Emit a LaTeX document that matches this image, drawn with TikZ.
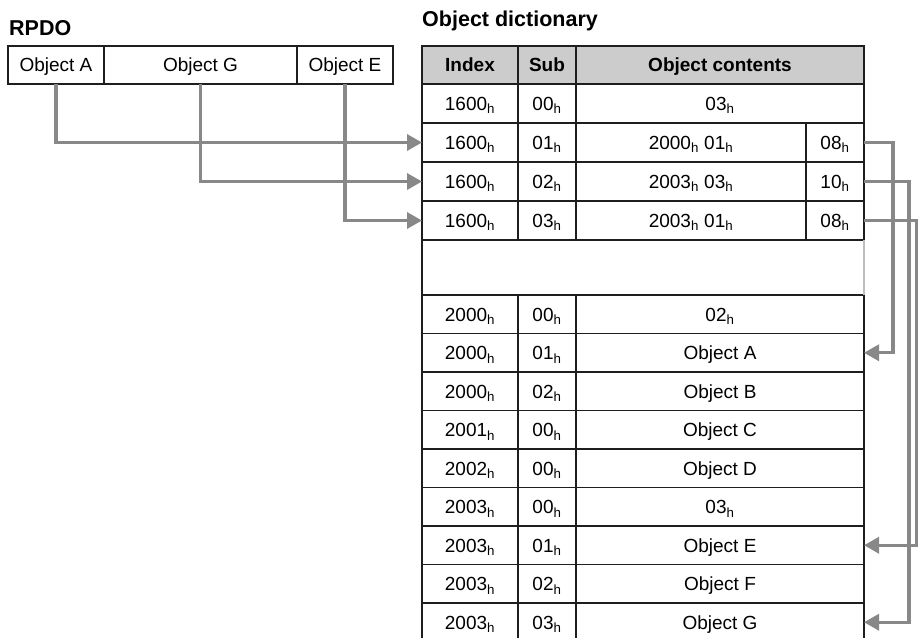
\documentclass[tikz,border=0pt]{standalone}
\usepackage{fontspec}
\setmainfont{Liberation Sans}
\usetikzlibrary{arrows.meta, positioning, calc}

\definecolor{linkgray}{RGB}{136,136,136}
\definecolor{headgray}{RGB}{204,204,204}
\definecolor{gridline}{RGB}{30,30,30}
\definecolor{gapgray}{RGB}{190,190,190}

\newcommand{\hx}[1]{#1\textsubscript{h}}

\begin{document}
\begin{tikzpicture}[x=1pt, y=-1pt,
  cell/.style={draw=gridline, line width=1.3pt, fill=white, anchor=north west,
    inner sep=0pt, outer sep=0pt, minimum height=39pt,
    text height=13.5pt, text depth=0pt, font=\fontsize{19}{22}\selectfont},
  head/.style={cell, fill=headgray, minimum height=38pt,
    font=\fontsize{19}{22}\selectfont\bfseries},
  title/.style={anchor=base west, inner sep=0pt,
    font=\fontsize{21.5}{25}\selectfont\bfseries},
  link/.style={draw=linkgray, line width=3.4pt,
    -{Triangle[length=15pt, width=16pt]}},
]
\useasboundingbox (0,0) rectangle (918,637);
\clip (0,0) rectangle (918,637);

% titles
\node[title] (rpdo) at (9,35) {RPDO};
\node[title] (odtitle) at (422,27) {Object dictionary};

% RPDO mapping
\node[cell, minimum width=96pt, minimum height=38pt] (pdoA) at (8,46) {Object A};
\node[cell, minimum width=193pt, minimum height=38pt, right=0pt of pdoA] (pdoG) {Object G};
\node[cell, minimum width=96pt, minimum height=38pt, right=0pt of pdoG] (pdoE) {Object E};

% header
\node[head, minimum width=96pt] (hd-idx) at (422,46) {Index};
\node[head, minimum width=58pt, right=0pt of hd-idx] (hd-sub) {Sub};
\node[head, minimum width=288pt, right=0pt of hd-sub] (hd-obj) {Object contents};

% 1600h entries
\node[cell, minimum width=96pt] (map0-idx) at (422,84) {\hx{1600}};
\node[cell, minimum width=58pt, right=0pt of map0-idx] (map0-sub) {\hx{00}};
\node[cell, minimum width=288pt, right=0pt of map0-sub] (map0-obj) {\hx{03}};
\foreach \s/\o/\l [count=\k] in {01/{\hx{2000} \hx{01}}/08, 02/{\hx{2003} \hx{03}}/10, 03/{\hx{2003} \hx{01}}/08} {
  \node[cell, minimum width=96pt] (map\k-idx) at (422,{84+39*\k}) {\hx{1600}};
  \node[cell, minimum width=58pt, right=0pt of map\k-idx] (map\k-sub) {\hx{\s}};
  \node[cell, minimum width=230pt, right=0pt of map\k-sub] (map\k-obj) {\o};
  \node[cell, minimum width=58pt, right=0pt of map\k-obj] (map\k-len) {\hx{\l}};
}

% application objects
\foreach \i/\s/\o [count=\k] in {2000/00/\hx{02}, 2000/01/Object A, 2000/02/Object B,
    2001/00/Object C, 2002/00/Object D, 2003/00/\hx{03},
    2003/01/Object E, 2003/02/Object F, 2003/03/Object G} {
  \node[cell, minimum width=96pt, minimum height=38.5pt] (ent\k-idx) at (422,{295+38.5*(\k-1)}) {\hx{\i}};
  \node[cell, minimum width=58pt, minimum height=38.5pt, right=0pt of ent\k-idx] (ent\k-sub) {\hx{\s}};
  \node[cell, minimum width=288pt, minimum height=38.5pt, right=0pt of ent\k-sub] (ent\k-obj) {\o};
}

% gap between the two blocks
\draw[draw=gridline, line width=1.3pt] (map3-idx.south west) -- (ent1-idx.north west);
\draw[draw=gapgray, line width=1.3pt] (map3-len.south east) -- (ent1-obj.north east);

% links
\draw[link] (pdoA.south) |- (map1-idx.west);
\draw[link] (pdoG.south) |- (map2-idx.west);
\draw[link] (pdoE.south) |- (map3-idx.west);
\draw[link] (map1-len.east) -- ++(29,0) |- (ent2-obj.east);
\draw[link] (map2-len.east) -- ++(45,0) |- (ent9-obj.east);
\draw[link] (map3-len.east) -- ++(53,0) |- (ent7-obj.east);
\end{tikzpicture}
\end{document}
